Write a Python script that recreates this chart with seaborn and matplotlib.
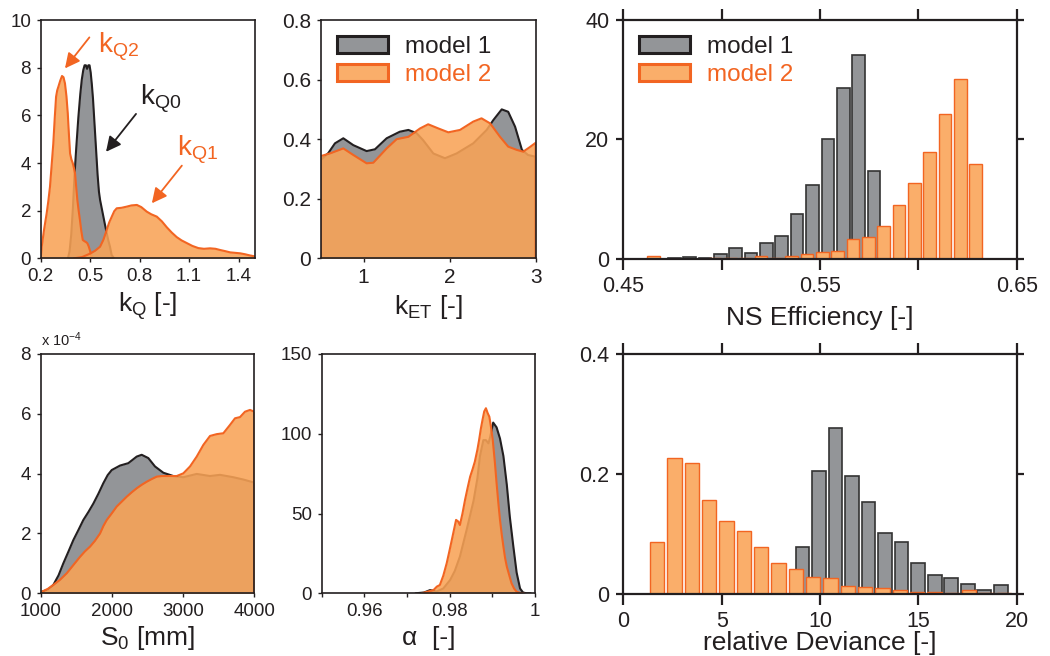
import numpy as np
import pandas as pd
import matplotlib
matplotlib.use("Agg")
import matplotlib.pyplot as plt
from matplotlib.patches import Patch
import seaborn as sns

# ---------------- data ----------------
# Panel A: k_Q densities
kq0_x = [0.365, 0.375, 0.385, 0.395, 0.405, 0.415, 0.428, 0.440, 0.449, 0.458, 0.466, 0.474, 0.481,
         0.489, 0.496, 0.503, 0.510, 0.517, 0.524, 0.531, 0.538, 0.545, 0.553, 0.560, 0.570, 0.580,
         0.590, 0.600, 0.610, 0.620, 0.630, 0.645]
kq0_y = [0.0, 0.3, 1.0, 2.1, 3.5, 4.6, 5.9, 6.9, 7.5, 7.9, 8.1, 8.1, 7.95, 8.1, 8.1, 7.8, 7.3, 6.7,
         5.9, 5.1, 4.3, 3.5, 2.8, 2.45, 2.1, 1.75, 1.4, 1.06, 0.75, 0.49, 0.14, 0.0]
kq2_x = [0.200, 0.206, 0.220, 0.236, 0.246, 0.256, 0.266, 0.276, 0.285, 0.293, 0.300, 0.307, 0.318,
         0.329, 0.338, 0.347, 0.356, 0.364, 0.371, 0.378, 0.386, 0.394, 0.401, 0.408, 0.415, 0.422,
         0.430, 0.438, 0.446, 0.455, 0.465, 0.475, 0.483, 0.491, 0.499, 0.506, 0.515]
kq2_y = [0.0, 0.49, 1.2, 1.89, 2.4, 3.0, 3.9, 4.8, 5.9, 6.78, 7.05, 7.2, 7.45, 7.65, 7.6, 7.34, 6.8,
         6.08, 5.2, 4.4, 4.15, 4.0, 3.8, 3.57, 3.0, 2.45, 2.0, 1.6, 1.15, 0.77, 0.72, 0.68, 0.63, 0.5,
         0.32, 0.12, 0.0]
kq1_x = [0.40, 0.45, 0.50, 0.53, 0.56, 0.58, 0.60, 0.615, 0.631, 0.646, 0.661, 0.690, 0.722, 0.750,
         0.783, 0.810, 0.843, 0.870, 0.904, 0.935, 0.965, 0.995, 1.025, 1.055, 1.086, 1.120, 1.156,
         1.190, 1.227, 1.260, 1.288, 1.320, 1.349, 1.380, 1.410, 1.440, 1.470, 1.500]
kq1_y = [0.0, 0.05, 0.2, 0.32, 0.49, 0.78, 1.19, 1.5, 1.75, 1.98, 2.1, 2.12, 2.17, 2.22, 2.24, 2.15,
         1.96, 1.85, 1.75, 1.55, 1.3, 1.08, 0.89, 0.75, 0.64, 0.52, 0.43, 0.40, 0.42, 0.40, 0.35,
         0.30, 0.25, 0.23, 0.21, 0.17, 0.12, 0.08]

# Panel B: k_ET densities
ket1_x = [0.50, 0.588, 0.666, 0.763, 0.879, 1.034, 1.131, 1.267, 1.420, 1.520, 1.616, 1.690, 1.810,
          1.945, 2.080, 2.274, 2.430, 2.507, 2.605, 2.680, 2.760, 2.840, 2.910, 3.000]
ket1_y = [0.33, 0.353, 0.386, 0.403, 0.380, 0.360, 0.366, 0.403, 0.425, 0.431, 0.420, 0.397, 0.352,
          0.336, 0.352, 0.386, 0.431, 0.464, 0.500, 0.492, 0.442, 0.364, 0.347, 0.341]
ket2_x = [0.50, 0.616, 0.763, 0.879, 1.034, 1.112, 1.267, 1.383, 1.520, 1.655, 1.750, 1.868, 1.984,
          2.120, 2.274, 2.370, 2.470, 2.585, 2.680, 2.780, 2.855, 2.930, 3.000]
ket2_y = [0.343, 0.353, 0.369, 0.347, 0.319, 0.321, 0.369, 0.400, 0.408, 0.436, 0.450, 0.436, 0.423,
          0.431, 0.459, 0.470, 0.453, 0.408, 0.375, 0.364, 0.358, 0.373, 0.388]

# Panel C: NS efficiency histograms
ns1_centers = [0.4759, 0.4837, 0.4915, 0.4993, 0.5071, 0.5149, 0.5227, 0.5305, 0.5383, 0.5461,
               0.5541, 0.5619, 0.5697, 0.5775]
ns1_heights = [0.2, 0.3, 0.2, 0.9, 1.84, 1.0, 2.6, 3.8, 7.5, 12.4, 20.1, 28.6, 34.1, 14.7]
ns2_centers = [0.4654, 0.4732, 0.4810, 0.4888, 0.4966, 0.5044, 0.5122, 0.5200, 0.5278, 0.5356,
               0.5434, 0.5512, 0.5590, 0.5668, 0.5746, 0.5824, 0.5902, 0.5980, 0.6058, 0.6136,
               0.6214, 0.6292]
ns2_heights = [0.5, 0.08, 0.08, 0.08, 0.1, 0.12, 0.15, 0.55, 0.1, 0.5, 0.9, 1.2, 1.3, 3.4, 3.7, 5.5,
               9.0, 12.8, 17.9, 24.2, 30.1, 15.9]

# Panel D: S0 densities (x 1e-4)
s01_x = [1000, 1014, 1100, 1177, 1250, 1317, 1390, 1458, 1530, 1598, 1670, 1739, 1810, 1879, 1940,
         1997, 2114, 2230, 2348, 2418, 2511, 2605, 2722, 2862, 3003, 3191, 3378, 3518, 3705, 3850, 4000]
s01_y = [0.03, 0.05, 0.12, 0.28, 0.6, 1.0, 1.4, 1.78, 2.12, 2.45, 2.72, 3.0, 3.33, 3.68, 3.95, 4.12,
         4.27, 4.35, 4.57, 4.63, 4.52, 4.24, 4.03, 3.92, 3.88, 3.99, 3.92, 3.96, 3.88, 3.8, 3.7]
s02_x = [1000, 1014, 1100, 1177, 1270, 1365, 1460, 1552, 1620, 1692, 1760, 1833, 1880, 1927, 2000,
         2067, 2140, 2208, 2280, 2348, 2420, 2489, 2560, 2629, 2700, 2770, 2840, 2910, 3003, 3097,
         3191, 3284, 3378, 3472, 3565, 3659, 3729, 3799, 3869, 3940, 4000]
s02_y = [0.03, 0.05, 0.15, 0.28, 0.45, 0.67, 0.95, 1.22, 1.4, 1.56, 1.75, 2.0, 2.25, 2.45, 2.68, 2.9,
         3.07, 3.23, 3.38, 3.51, 3.63, 3.73, 3.82, 3.9, 3.92, 3.92, 3.92, 3.92, 4.01, 4.24, 4.57, 4.96,
         5.26, 5.32, 5.35, 5.63, 5.85, 5.89, 6.07, 6.13, 6.07]

# Panel E: alpha densities
al1_x = [0.9720, 0.9740, 0.9754, 0.9770, 0.9785, 0.9801, 0.9812, 0.9824, 0.9840, 0.9856, 0.9865,
         0.9871, 0.9879, 0.9885, 0.9891, 0.9895, 0.9902, 0.9910, 0.9918, 0.9926, 0.9934, 0.9941,
         0.9949, 0.9957, 0.9965, 0.9972, 0.9980, 0.9990]
al1_y = [0, 0.5, 2.0, 1.2, 3.0, 8.3, 14, 23, 40, 58, 72, 86, 96, 96, 94, 98, 107, 104, 97, 86, 68,
         48, 30, 13, 3, 0.5, 0, 0]
al2_x = [0.9734, 0.9762, 0.9770, 0.9777, 0.9785, 0.9793, 0.9799, 0.9805, 0.9815, 0.9820, 0.9824,
         0.9830, 0.9836, 0.9842, 0.9848, 0.9854, 0.9859, 0.9865, 0.9869, 0.9873, 0.9877, 0.9881,
         0.9885, 0.9889, 0.9893, 0.9897, 0.9901, 0.9906, 0.9910, 0.9914, 0.9918, 0.9922, 0.9926,
         0.9930, 0.9934, 0.9940, 0.9945, 0.9951, 0.9957, 0.9965, 0.9975]
al2_y = [0, 2, 4.2, 5.2, 11, 18.8, 26, 33.4, 46, 45, 42.8, 50, 58.5, 66, 73.1, 78, 82.5, 90, 96.1,
         103, 108.7, 114, 116, 113, 110.7, 104, 96.1, 82, 69, 57, 46, 37, 29.2, 22, 16.7, 11, 6.3, 3,
         1.0, 0.2, 0]

# Panel F: relative deviance histograms
dev1_centers = [9.11, 9.95, 10.79, 11.63, 12.47, 13.31, 14.15, 14.99, 15.83, 16.67, 17.51, 18.35, 19.19]
dev1_heights = [0.078, 0.205, 0.277, 0.196, 0.154, 0.101, 0.086, 0.051, 0.031, 0.026, 0.016, 0.006, 0.015]
dev2_centers = [1.72, 2.60, 3.48, 4.36, 5.25, 6.13, 7.01, 7.89, 8.77, 9.65, 10.53, 11.42, 12.30,
                13.18, 14.06, 14.94, 15.82, 16.70, 17.59, 18.47, 19.35]
dev2_heights = [0.086, 0.227, 0.219, 0.156, 0.121, 0.105, 0.079, 0.051, 0.041, 0.028, 0.027, 0.014,
                0.011, 0.010, 0.007, 0.004, 0.003, 0.002, 0.006, 0.002, 0.002]

labels = ["model 1", "model 2"]

# ---------------- style ----------------
GREY_FILL = "#939598"
GREY_EDGE = "#231f20"
OR_FILL = "#f9a356"
OR_BAR = "#faae6a"
OR_EDGE = "#f26522"
TEXT = "#231f20"

sns.set_style("ticks")
plt.rcParams["font.family"] = ["Liberation Sans", "DejaVu Sans"]
plt.rcParams["mathtext.fontset"] = "custom"
plt.rcParams["mathtext.rm"] = "Liberation Sans"
plt.rcParams["mathtext.it"] = "Liberation Sans:italic"
plt.rcParams["text.color"] = TEXT
plt.rcParams["axes.labelcolor"] = TEXT
plt.rcParams["xtick.color"] = TEXT
plt.rcParams["ytick.color"] = TEXT
plt.rcParams["axes.edgecolor"] = TEXT

fig = plt.figure(figsize=(10.5, 6.56), dpi=100)

axA = fig.add_axes([0.0388, 0.6062, 0.2041, 0.3633])
axB = fig.add_axes([0.3054, 0.6062, 0.2048, 0.3633])
axC = fig.add_axes([0.5936, 0.6052, 0.3747, 0.3643])
axD = fig.add_axes([0.0388, 0.0956, 0.2034, 0.3648])
axE = fig.add_axes([0.3064, 0.0956, 0.2031, 0.3648])
axF = fig.add_axes([0.5936, 0.0945, 0.3747, 0.3659])

_z = [2.0]


def density(ax, xs, ys, fill, edge, alpha=1.0, lw=1.5):
    xs = np.asarray(xs, float)
    ys = np.asarray(ys, float)
    _z[0] += 0.1
    ax.fill_between(xs, 0, ys, color=fill, alpha=alpha, lw=0, zorder=_z[0])
    ox = np.concatenate([[xs[0]], xs, [xs[-1]]])
    oy = np.concatenate([[0.0], ys, [0.0]])
    _z[0] += 0.1
    sns.lineplot(x=ox, y=oy, ax=ax, color=edge, lw=lw, sort=False, estimator=None, zorder=_z[0])


def bars(ax, centers, heights, fill, edge, lw):
    c = np.asarray(centers, float)
    w = c[1] - c[0]
    edges = list(np.append(c - w / 2, c[-1] + w / 2))
    df = pd.DataFrame({"c": c, "h": np.asarray(heights, float)})
    _z[0] += 0.1
    sns.histplot(data=df, x="c", weights="h", bins=edges, shrink=0.83, color=fill,
                 edgecolor=edge, linewidth=lw, alpha=1, ax=ax, zorder=_z[0])


def small_style(ax, size=13):
    for s in ax.spines.values():
        s.set_linewidth(1.2)
        s.set_visible(True)
        s.set_zorder(10)
    ax.tick_params(direction="out", length=3, width=1.0, labelsize=size, pad=4)


# ---- Panel A
density(axA, kq0_x, kq0_y, GREY_FILL, GREY_EDGE)
density(axA, kq2_x, kq2_y, OR_FILL, OR_EDGE, alpha=0.88)
density(axA, kq1_x, kq1_y, OR_FILL, OR_EDGE, alpha=0.88)
axA.set_xlim(0.2, 1.5)
axA.set_ylim(0, 10)
axA.set_xticks([0.2, 0.5, 0.8, 1.1, 1.4])
axA.set_xticklabels(["0.2", "0.5", "0.8", "1.1", "1.4"])
axA.set_yticks([0, 2, 4, 6, 8, 10])
axA.set_xlabel(r"k$_{\mathrm{Q}}$ [-]", fontsize=19, labelpad=4)
small_style(axA, 13.5)
arrow = dict(arrowstyle="-|>,head_length=0.9,head_width=0.45", lw=1.3, shrinkA=0, shrinkB=0)
axA.annotate("", xy=(0.347, 7.97), xytext=(0.495, 9.27), arrowprops=dict(arrow, color=OR_EDGE))
axA.text(0.548, 8.9, r"k$_{\mathrm{Q2}}$", color=OR_EDGE, fontsize=20, ha="left", va="center")
axA.annotate("", xy=(0.596, 4.47), xytext=(0.778, 6.06), arrowprops=dict(arrow, color=TEXT))
axA.text(0.803, 6.7, r"k$_{\mathrm{Q0}}$", color=TEXT, fontsize=20, ha="left", va="center")
axA.annotate("", xy=(0.874, 2.31), xytext=(1.056, 3.89), arrowprops=dict(arrow, color=OR_EDGE))
axA.text(1.027, 4.55, r"k$_{\mathrm{Q1}}$", color=OR_EDGE, fontsize=20, ha="left", va="center")

# ---- Panel B
density(axB, ket1_x, ket1_y, GREY_FILL, GREY_EDGE)
density(axB, ket2_x, ket2_y, OR_FILL, OR_EDGE, alpha=0.88)
axB.set_xlim(0.5, 3)
axB.set_ylim(0, 0.8)
axB.set_xticks([1, 2, 3])
axB.set_yticks([0, 0.2, 0.4, 0.6, 0.8])
axB.set_yticklabels(["0", "0.2", "0.4", "0.6", "0.8"])
axB.set_xlabel(r"k$_{\mathrm{ET}}$ [-]", fontsize=19, labelpad=4)
small_style(axB, 15)


def legend(ax, loc_xy):
    handles = [Patch(facecolor=GREY_FILL, edgecolor=GREY_EDGE, lw=2.2),
               Patch(facecolor=OR_BAR, edgecolor=OR_EDGE, lw=2.2)]
    ax.legend(handles, labels, loc="upper left", bbox_to_anchor=loc_xy, frameon=False,
              fontsize=17.5, handlelength=2.1, handleheight=0.68, handletextpad=0.7,
              labelspacing=0.25, borderaxespad=0, labelcolor=[TEXT, OR_EDGE])


legend(axB, (0.031, 0.975))

# ---- Panel C
bars(axC, ns1_centers, ns1_heights, GREY_FILL, "#333333", 1.2)
bars(axC, ns2_centers, ns2_heights, OR_BAR, OR_EDGE, 1.0)
axC.set_xlim(0.45, 0.65)
axC.set_ylim(0, 40)
axC.set_xticks([0.45, 0.50, 0.55, 0.60, 0.65])
axC.set_xticklabels(["0.45", "", "0.55", "", "0.65"])
axC.set_yticks([0, 20, 40])
axC.set_ylabel("")
axC.set_xlabel("NS Efficiency [-]", fontsize=19, labelpad=6.5)
legend(axC, (0.015, 0.975))

# ---- Panel D
density(axD, s01_x, s01_y, GREY_FILL, GREY_EDGE)
density(axD, s02_x, s02_y, OR_FILL, OR_EDGE, alpha=0.88)
axD.set_xlim(1000, 4000)
axD.set_ylim(0, 8)
axD.set_xticks([1000, 2000, 3000, 4000])
axD.set_yticks([0, 2, 4, 6, 8])
axD.set_xlabel(r"S$_{\mathrm{0}}$ [mm]", fontsize=19, labelpad=3)
small_style(axD, 13.5)
axD.text(0.0, 1.02, r"x 10$^{-4}$", transform=axD.transAxes, fontsize=10.5, ha="left", va="bottom")

# ---- Panel E
density(axE, al1_x, al1_y, GREY_FILL, GREY_EDGE)
density(axE, al2_x, al2_y, OR_FILL, OR_EDGE, alpha=0.88)
axE.set_xlim(0.95, 1.0)
axE.set_ylim(0, 150)
axE.set_xticks([0.95, 0.96, 0.97, 0.98, 0.99, 1.0])
axE.set_xticklabels(["", "0.96", "", "0.98", "", "1"])
axE.set_yticks([0, 50, 100, 150])
axE.set_xlabel("α  [-]", fontsize=19, labelpad=4)
small_style(axE, 13.5)

# ---- Panel F
bars(axF, dev1_centers, dev1_heights, GREY_FILL, "#333333", 1.2)
bars(axF, dev2_centers, dev2_heights, OR_BAR, OR_EDGE, 1.0)
axF.set_xlim(0, 20)
axF.set_ylim(0, 0.4)
axF.set_xticks([0, 5, 10, 15, 20])
axF.set_yticks([0, 0.2, 0.4])
axF.set_yticklabels(["0", "0.2", "0.4"])
axF.set_ylabel("")
axF.set_xlabel("relative Deviance [-]", fontsize=19, labelpad=-0.5)

for ax in (axC, axF):
    for s in ax.spines.values():
        s.set_linewidth(1.6)
        s.set_visible(True)
        s.set_zorder(10)
    ax.tick_params(axis="x", direction="out", length=8, width=1.6, top=True, labeltop=False,
                   labelsize=15.5, pad=4)
    ax.tick_params(axis="y", direction="out", length=5, width=1.6, right=True, labelright=False,
                   labelsize=15.5, pad=5)

for ax in (axA, axB, axD, axE):
    ax.set_ylabel("")

fig.savefig("out.png", dpi=100)
